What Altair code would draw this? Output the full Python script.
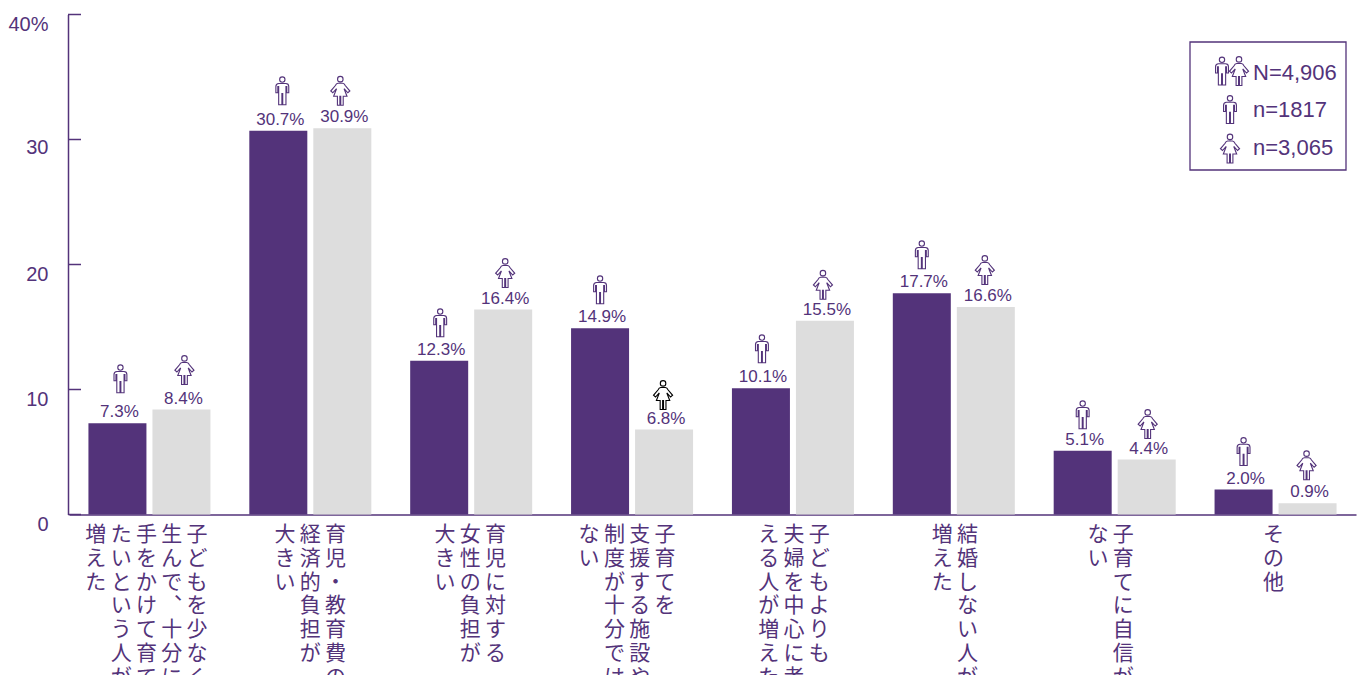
import altair as alt
import pandas as pd

# ---- values ----
category_keys = ["fewer", "cost", "burden", "support", "couple", "unmarried", "confidence", "other"]
male_values = [7.3, 30.7, 12.3, 14.9, 10.1, 17.7, 5.1, 2.0]
female_values = [8.4, 30.9, 16.4, 6.8, 15.5, 16.6, 4.4, 0.9]
category_columns = [
    ["子どもを少なく", "生んで︑十分に", "手をかけて育て", "たいという人が", "増えた"],
    ["育児・教育費の", "経済的負担が", "大きい"],
    ["育児に対する", "女性の負担が", "大きい"],
    ["子育てを", "支援する施設や", "制度が十分では", "ない"],
    ["子どもよりも", "夫婦を中心に考", "える人が増えた"],
    ["結婚しない人が", "増えた"],
    ["子育てに自信が", "ない"],
    ["その他"],
]
y_ticks = [0, 10, 20, 30, 40]
legend_entries = ["N=4,906", "n=1817", "n=3,065"]

PURPLE = "#53337A"
GREY = "#DDDDDD"
LATIN = "Liberation Sans"
CJK = "Noto Sans CJK JP"

# layout tuning, in pixels, separate from the data above
column_shift = [-3, 0, -1, -5, 1, 1, -4, -2]
male_icon_gap = [44.5, 40, 38, 38.5, 39.5, 38.5, 36, 38]
male_icon_nudge = [3, 4, 1, 0, 1, 0, 0, 0]
female_icon_gap = [39.5, 37.5, 36.5, 34.5, 36, 37, 35.5, 38]
female_icon_nudge = [3, -2, 2, -1, -2, -1, 1, -1]
BAND_CENTRE = 80.44
BAR_CENTRE = 32

HEAD = ("M0.19 -0.8 C0.19 -0.695 0.105 -0.61 0 -0.61 C-0.105 -0.61 -0.19 -0.695 -0.19 -0.8 "
        "C-0.19 -0.905 -0.105 -0.99 0 -0.99 C0.105 -0.99 0.19 -0.905 0.19 -0.8 Z ")
MALE = HEAD + ("M-0.46 -0.3 Q-0.46 -0.52 -0.25 -0.52 L0.25 -0.52 Q0.46 -0.52 0.46 -0.3 L0.46 0.14 "
               "L0.32 0.14 L0.32 -0.3 L0.26 -0.3 L0.26 1 L0.03 1 L0.03 0.2 L-0.03 0.2 L-0.03 1 "
               "L-0.26 1 L-0.26 -0.3 L-0.32 -0.3 L-0.32 0.14 L-0.46 0.14 Z")
FEMALE = HEAD + ("M-0.16 -0.52 L0.16 -0.52 Q0.28 -0.5 0.34 -0.36 L0.66 0.02 L0.52 0.14 L0.26 -0.14 "
                 "L0.46 0.38 L0.2 0.38 L0.2 1 L0.03 1 L0.03 0.38 L-0.03 0.38 L-0.03 1 L-0.2 1 "
                 "L-0.2 0.38 L-0.46 0.38 L-0.26 -0.14 L-0.52 0.14 L-0.66 0.02 L-0.34 -0.36 "
                 "Q-0.28 -0.5 -0.16 -0.52 Z")

rows = []
for key, m, f in zip(category_keys, male_values, female_values):
    rows.append({"cat": key, "sex": "male", "value": m, "label": f"{m:.1f}%"})
    rows.append({"cat": key, "sex": "female", "value": f, "label": f"{f:.1f}%"})
df = pd.DataFrame(rows)

y_scale = alt.Scale(domain=[0, 40])
x_enc = alt.X("cat:N", sort=category_keys,
              scale=alt.Scale(paddingInner=0, paddingOuter=0, range=[1, 1288]),
              axis=alt.Axis(title=None, labels=False, ticks=False, domainColor=PURPLE, domainWidth=1.5))
off_enc = alt.XOffset("sex:N", sort=["male", "female"],
                      scale=alt.Scale(paddingInner=0.09375, paddingOuter=0.3037))
y_enc = alt.Y("value:Q", scale=y_scale,
              axis=alt.Axis(title=None, values=y_ticks, ticks=False, grid=False,
                            domainColor=PURPLE, domainWidth=1.5,
                            labelColor=PURPLE, labelFont=LATIN, labelFontSize=20,
                            labelPadding=20,
                            labelOffset={"condition": {"test": "datum.value == 30", "value": 8}, "value": 10},
                            labelExpr="datum.value == 40 ? '40%' : datum.label"))

bars = alt.Chart(df).mark_bar(size=58).encode(
    x=x_enc, xOffset=off_enc, y=y_enc,
    color=alt.Color("sex:N", scale=alt.Scale(domain=["male", "female"], range=[PURPLE, GREY]), legend=None),
)

labels = alt.Chart(df).mark_text(font=LATIN, fontSize=17, color=PURPLE, baseline="middle", dy=-11, dx=2).encode(
    x=x_enc, xOffset=off_enc, y=alt.Y("value:Q", scale=y_scale), text="label:N",
)


def icon(key, sex, shape, size, gap, dx):
    colour = "#000000" if (key == "support" and sex == "female") else PURPLE
    return alt.Chart(df).transform_filter(f"datum.sex == '{sex}' && datum.cat == '{key}'").mark_point(
        shape=shape, size=size, filled=False, stroke=colour, strokeWidth=1.1, opacity=1, yOffset=-gap,
    ).encode(
        x=alt.X("cat:N", sort=category_keys),
        xOffset=alt.value(dx),
        y=alt.Y("value:Q", scale=y_scale),
    )


icon_layers = []
for i, key in enumerate(category_keys):
    icon_layers.append(icon(key, "male", MALE, 784, male_icon_gap[i],
                            BAND_CENTRE - BAR_CENTRE + male_icon_nudge[i]))
    icon_layers.append(icon(key, "female", FEMALE, 841, female_icon_gap[i],
                            BAND_CENTRE + BAR_CENTRE + female_icon_nudge[i]))

ticks = alt.Chart(pd.DataFrame({"t": y_ticks})).mark_rule(color=PURPLE, strokeWidth=1.5).encode(
    y=alt.Y("t:Q", scale=y_scale), x=alt.value(0), x2=alt.value(13),
)

STEP = 25.3
category_text = []
for key, cols, shift in zip(category_keys, category_columns, column_shift):
    n = len(cols)
    for i, col in enumerate(cols):
        one = pd.DataFrame({"cat": [key], "text": ["\n".join(col)]})
        category_text.append(
            alt.Chart(one).mark_text(
                font=CJK, fontSize=21, color=PURPLE, align="center", baseline="top",
                lineBreak="\n", lineHeight=23.8, dx=shift + ((n - 1) / 2 - i) * STEP,
            ).encode(x=alt.X("cat:N", sort=category_keys), y=alt.value(509.5), text="text:N")
        )

box = alt.Chart(pd.DataFrame({"a": [0]})).mark_rect(
    fillOpacity=0, stroke=PURPLE, strokeWidth=1.3
).encode(x=alt.value(1122), x2=alt.value(1278), y=alt.value(27.5), y2=alt.value(155.5))


def legend_text(text, y):
    return alt.Chart(pd.DataFrame({"t": [text]})).mark_text(
        font=LATIN, fontSize=22, color=PURPLE, align="left", baseline="middle"
    ).encode(x=alt.value(1185), y=alt.value(y), text="t:N")


def legend_icon(shape, size, x, y):
    return alt.Chart(pd.DataFrame({"a": [0]})).mark_point(
        shape=shape, size=size, filled=False, stroke=PURPLE, strokeWidth=1.1, opacity=1
    ).encode(x=alt.value(x), y=alt.value(y))


legend_layers = [
    box,
    legend_text(legend_entries[0], 58),
    legend_text(legend_entries[1], 95.5),
    legend_text(legend_entries[2], 133),
    legend_icon(MALE, 784, 1154, 56.5),
    legend_icon(FEMALE, 841, 1171, 56.5),
    legend_icon(MALE, 784, 1162, 95),
    legend_icon(FEMALE, 841, 1162, 134),
]

chart = alt.layer(
    bars, labels, *icon_layers, ticks, *category_text, *legend_layers
).properties(
    width=1288, height=500,
    autosize=alt.AutoSizeParams(type="none"),
    padding={"left": 60, "top": 6.5, "right": 1, "bottom": 160.5},
).configure_view(strokeWidth=0)

chart.save("out.html", embed_options={"renderer": "svg", "actions": False})
